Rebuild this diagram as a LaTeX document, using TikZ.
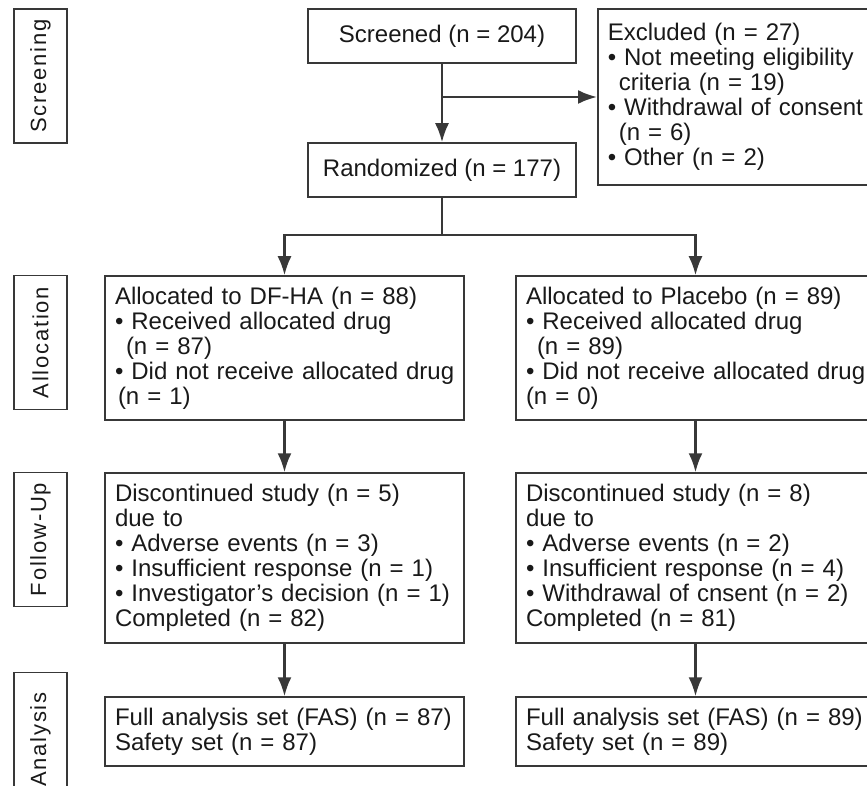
\documentclass[tikz,border=0pt]{standalone}
\usepackage{fontspec}
\setmainfont{Liberation Sans}
\newfontfamily\lblfont[LetterSpace=8]{Liberation Sans}
\usetikzlibrary{positioning, arrows.meta}
\definecolor{box-gray}{rgb}{0.22, 0.22, 0.22}
\definecolor{txt-gray}{rgb}{0.1, 0.1, 0.1}

\begin{document}
\begin{tikzpicture}[x=1pt, y=-1pt]
	\tikzset{box/.style={rectangle, draw=box-gray, line width=1.5pt, text=txt-gray, font=\fontsize{24}{25}\selectfont, inner xsep=10pt, inner ysep=0pt}}
	\tikzset{wbox/.style={box, text width=339pt, minimum height=#1, align=left}}
	\tikzset{lbl/.style={rectangle, draw=box-gray, line width=1.5pt, text=txt-gray, font=\lblfont\fontsize{22}{24}\selectfont, rotate=90, minimum width=134pt, minimum height=53pt, inner sep=0pt}}
	\tikzset{arr/.style={-{Latex[length=19pt, width=14pt]}, line width=2.4pt, draw=box-gray}}
	\tikzset{conn/.style={line width=2.4pt, draw=box-gray}}
	\path[use as bounding box] (0,0) rectangle (867,786);
	\clip (0,0) rectangle (867,786);
	\node[lbl] (screen lbl) at (40.5, 76) {Screening};
	\node[lbl] (alloc lbl) at (40.5, 342.5) {Allocation};
	\node[lbl] (follow lbl) at (40.5, 539.5) {Follow-Up};
	\node[lbl] (analysis lbl) at (40.5, 739.5) {Analysis};
	\node[box, minimum width=268pt, minimum height=54pt] (screened) at (442, 36) {Screened (n = 204)};
	\node[box, minimum width=268pt, minimum height=54pt] (rand) at (442, 170) {Randomized (n = 177)};
	\node[box, text width=270pt, minimum height=176pt, align=left, anchor=west] (excluded) at (597, 97) {Excluded (n = 27)\\
		\textbullet\ Not meeting eligibility\\
		\hspace*{11pt}criteria (n = 19)\\
		\textbullet\ Withdrawal of consent\\
		\hspace*{11pt}(n = 6)\\
		\textbullet\ Other (n = 2)};
	\node[wbox=144pt] (dfha) at (284.5, 348) {Allocated to DF-HA (n = 88)\\
		\textbullet\ Received allocated drug\\
		\hspace*{11pt}(n = 87)\\
		\mbox{\textbullet\ Did not receive allocated drug}\\
		\hspace*{3pt}(n = 1)};
	\node[wbox=144pt] (placebo) at (695.5, 348) {Allocated to Placebo (n = 89)\\
		\textbullet\ Received allocated drug\\
		\hspace*{11pt}(n = 89)\\
		\mbox{\textbullet\ Did not receive allocated drug}\\
		(n = 0)};
	\node[wbox=170pt] (fu dfha) at (284.5, 558) {Discontinued study (n = 5)\\
		due to\\
		\textbullet\ Adverse events (n = 3)\\
		\textbullet\ Insufficient response (n = 1)\\
		\textbullet\ Investigator’s decision (n = 1)\\
		Completed (n = 82)};
	\node[wbox=170pt] (fu placebo) at (695.5, 558) {Discontinued study (n = 8)\\
		due to\\
		\textbullet\ Adverse events (n = 2)\\
		\textbullet\ Insufficient response (n = 4)\\
		\textbullet\ Withdrawal of cnsent (n = 2)\\
		Completed (n = 81)};
	\node[wbox=69pt] (fas dfha) at (284.5, 731.5) {Full analysis set (FAS) (n = 87)\\
		Safety set (n = 87)};
	\node[wbox=69pt] (fas placebo) at (695.5, 731.5) {Full analysis set (FAS) (n = 89)\\
		Safety set (n = 89)};
	\coordinate (excl split) at (screened.south |- excluded.west);
	\path (rand.south) ++(0, 37) coordinate (fork);
	\draw[arr] (screened) -- (rand);
	\draw[arr] (excl split) -- (excluded);
	\draw[conn] (rand) -- (fork);
	\draw[arr] (fork) -| (dfha);
	\draw[arr] (fork) -| (placebo);
	\draw[arr] (dfha) -- (fu dfha);
	\draw[arr] (placebo) -- (fu placebo);
	\draw[arr] (fu dfha) -- (fas dfha);
	\draw[arr] (fu placebo) -- (fas placebo);
\end{tikzpicture}
\end{document}
